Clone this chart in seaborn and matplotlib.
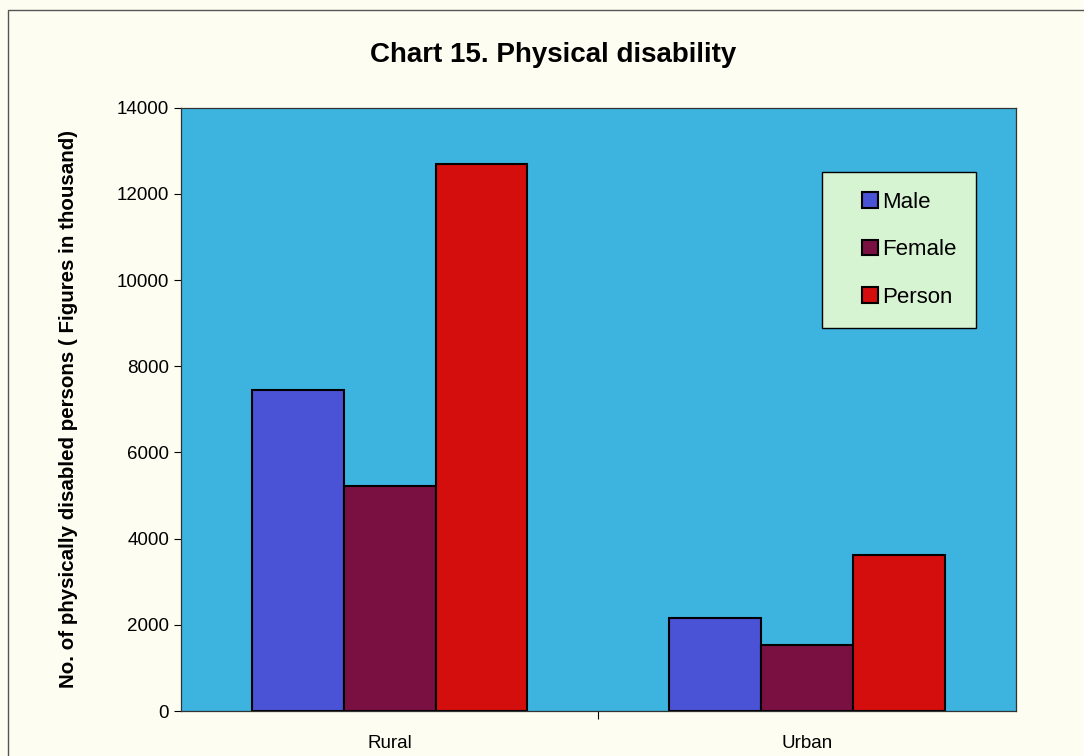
import pandas as pd
import matplotlib.pyplot as plt
import seaborn as sns
from matplotlib.patches import Rectangle
from matplotlib.legend_handler import HandlerPatch

# Datos (en miles)
areas = ['Rural', 'Urban']
male = [7450, 2150]
female = [5220, 1530]
person = [12690, 3620]

df = pd.DataFrame({
    'area': areas * 3,
    'group': ['Male'] * 2 + ['Female'] * 2 + ['Person'] * 2,
    'value': male + female + person,
})

colors = {'Male': '#4a52d6', 'Female': '#7a1042', 'Person': '#d40d0d'}

sns.set_style('white')
plt.rcParams['font.family'] = ['Liberation Sans', 'DejaVu Sans']
plt.rcParams['text.color'] = 'black'
plt.rcParams['axes.labelcolor'] = 'black'
plt.rcParams['xtick.color'] = 'black'
plt.rcParams['ytick.color'] = 'black'

fig = plt.figure(figsize=(10.84, 7.56), dpi=100, facecolor='#fdfdf1')
ax = fig.add_axes([0.167, 0.0595, 0.770, 0.798])
ax.set_facecolor('#3db3e0')

sns.barplot(data=df, x='area', y='value', hue='group', palette=colors,
            width=0.66, edgecolor='black', linewidth=1.5, ax=ax, saturation=1)

ax.set_xlim(-0.5, 1.5)
ax.set_ylim(0, 14000)
ax.set_yticks(range(0, 14001, 2000))
ax.tick_params(axis='y', labelsize=13.5, length=5, direction='out', left=True, width=0.8)
ax.tick_params(axis='x', which='major', length=0, labelsize=13.5, pad=17)
ax.set_xticks([0.5], minor=True)
ax.tick_params(axis='x', which='minor', length=6, direction='out', bottom=True, width=0.8)
for s in ax.spines.values():
    s.set_color('#333333')
    s.set_linewidth(0.9)

ax.set_xlabel('')
ax.set_ylabel('No. of physically disabled persons ( Figures in thousand)',
              fontsize=14.8, fontweight='bold', labelpad=28)
fig.suptitle('Chart 15. Physical disability', fontsize=20, fontweight='bold',
             x=0.51, y=0.945)


# cuadrado pegado al texto (estilo Excel)
def square_patch(legend, orig_handle, xdescent, ydescent, width, height, fontsize):
    side = height * 1.05
    return Rectangle((width - side - xdescent, -ydescent + (height - side) / 2),
                     side, side)


handles, labels = ax.get_legend_handles_labels()
leg = ax.legend(handles, labels, loc='upper right', bbox_to_anchor=(0.953, 0.894),
                fontsize=16, frameon=True, fancybox=False,
                handlelength=1.6, handleheight=0.65, handletextpad=0.2,
                labelspacing=1.2, borderpad=0.9, borderaxespad=0,
                handler_map={type(handles[0]): HandlerPatch(patch_func=square_patch)})
leg.get_frame().set_facecolor('#d6f3d2')
leg.get_frame().set_edgecolor('black')
leg.get_frame().set_linewidth(1.0)
leg.get_frame().set_alpha(1)

fig.patches.append(Rectangle((0.0075, -0.01), 1.2, 0.997, transform=fig.transFigure,
                             fill=False, edgecolor='#555555', linewidth=1.0))

fig.savefig('out.png', dpi=100, facecolor=fig.get_facecolor())
